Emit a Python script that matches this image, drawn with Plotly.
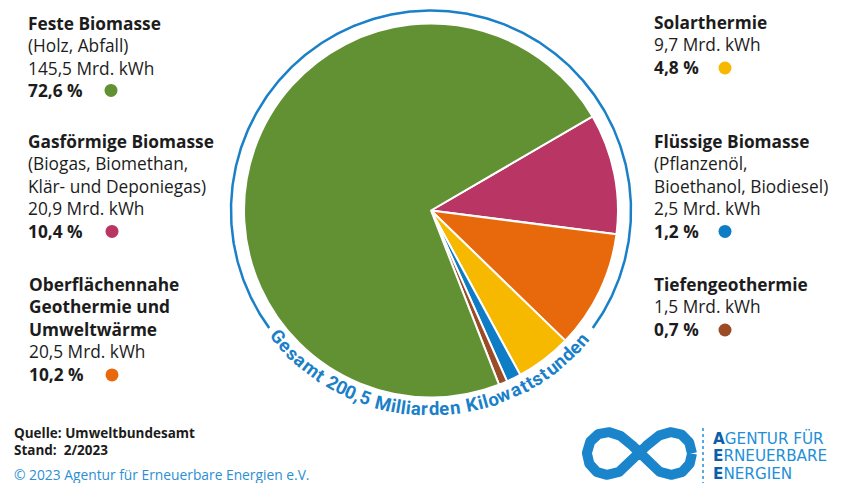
import math
import plotly.graph_objects as go

# ---------------- data ----------------
categories = ["Gasförmige Biomasse", "Oberflächennahe Geothermie und Umweltwärme",
              "Solarthermie", "Flüssige Biomasse", "Tiefengeothermie", "Feste Biomasse"]
values_mrd_kwh = [20.9, 20.5, 9.7, 2.5, 1.5, 145.5]
shares_pct = ["10,4", "10,2", "4,8", "1,2", "0,7", "72,6"]
title_lines = [["Gasförmige Biomasse"], ["Oberflächennahe", "Geothermie und", "Umweltwärme"],
               ["Solarthermie"], ["Flüssige Biomasse"], ["Tiefengeothermie"], ["Feste Biomasse"]]
sub_lines = [["(Biogas, Biomethan,", "Klär- und Deponiegas)"], [], [],
             ["(Pflanzenöl,", "Bioethanol, Biodiesel)"], [], ["(Holz, Abfall)"]]
total_text = "Gesamt 200,5 Milliarden Kilowattstunden"
colors = ["#b93564", "#e8690c", "#f7b800", "#0f7dc6", "#9b4b26", "#629134"]

# ---------------- layout constants ----------------
W, H = 858, 483          # window size
OFF = 8                  # default page body margin
FW, FH = W - OFF, H - OFF
CX, CY, R = 431, 210.5, 187
RING_R = 200
BLUE = "#1a80c8"
TXT = "#1c1c1c"
FONT = "Open Sans"
FS = 17.3
LH = FS * 1.3

# block placement: (x, first line y, dot x)
block_pos = {5: (26, 23, 111), 0: (26, 141.5, 112), 1: (27, 285, 112),
             2: (652, 23, 725), 3: (652, 141.5, 725), 4: (652, 285, 725)}

fig = go.Figure()

fig.add_trace(go.Pie(
    labels=categories, values=values_mrd_kwh, sort=False, direction="clockwise",
    rotation=59.8, marker=dict(colors=colors, line=dict(color="white", width=2)),
    textinfo="none", hoverinfo="skip", showlegend=False,
    domain=dict(x=[(CX - R - OFF) / FW, (CX + R - OFF) / FW],
                y=[(H - CY - R) / FH, (H - CY + R) / FH]),
))

# ring around pie with gap at bottom
th = [math.radians(-36 + i * 0.5) for i in range(int(252 / 0.5) + 1)]
fig.add_trace(go.Scatter(x=[CX + RING_R * math.cos(t) for t in th],
                         y=[CY - RING_R * math.sin(t) for t in th],
                         mode="lines", line=dict(color=BLUE, width=2.5),
                         hoverinfo="skip", showlegend=False))

annotations = []

def ann(x, y, text, size, color=TXT, xanchor="left", angle=0, family=FONT, weight=None):
    f = dict(family=family, size=size, color=color)
    if weight:
        f["weight"] = weight
    annotations.append(dict(x=x, y=y, xref="x", yref="y", text=text, showarrow=False,
                            xanchor=xanchor, yanchor="middle", textangle=angle, font=f,
                            align="left"))

dot_x, dot_y, dot_c = [], [], []
for i, cat in enumerate(categories):
    x0, y0, dx = block_pos[i]
    lines = [f"<b>{ln}</b>" for ln in title_lines[i]] + list(sub_lines[i])
    lines.append(f"{values_mrd_kwh[i]:.1f}".replace(".", ",") + " Mrd. kWh")
    lines.append(f"<b>{shares_pct[i]} %</b>")
    n = len(lines)
    ann(x0, y0 + (n - 1) * LH / 2, "<br>".join(lines), FS)
    dot_x.append(dx); dot_y.append(y0 + (n - 1) * LH); dot_c.append(colors[i])

fig.add_trace(go.Scatter(x=dot_x, y=dot_y, mode="markers",
                         marker=dict(size=13, color=dot_c), hoverinfo="skip", showlegend=False))

# curved total text
def cw(c):
    if c == " ": return 0.30
    if c in "il": return 0.28
    if c in "tf": return 0.38
    if c == "r": return 0.40
    if c == ",": return 0.26
    if c in "mM": return 0.88
    if c == "w": return 0.80
    if c.isupper(): return 0.70
    return 0.58

widths = [cw(c) for c in total_text]
centers = []
acc = 0
for wv in widths:
    centers.append(acc + wv / 2)
    acc += wv
c0, c1 = centers[0], centers[-1]
TH0, TH1, TR = 219.6, 319.4, 199
for ch, cc in zip(total_text, centers):
    if ch == " ":
        continue
    thd = TH0 + (cc - c0) / (c1 - c0) * (TH1 - TH0)
    t = math.radians(thd)
    ann(CX + TR * math.cos(t), CY - TR * math.sin(t), f"<b>{ch}</b>", 18.5, color=BLUE,
        xanchor="center", angle=270 - thd, family="Roboto")

# source
ann(12, 433, "<b>Quelle: Umweltbundesamt</b>", 13.5)
ann(12, 450, "<b>Stand:  2/2023</b>", 13.5)
ann(12, 474, "© 2023 Agentur für Erneuerbare Energien e.V.", 13.8, color="#2b8fd3")

# logo
LOGO_DARK, LOGO_LIGHT = "#0b5ea8", "#1f8fd8"
for yy, first, rest in [(438, "A", "GENTUR FÜR"), (456, "E", "RNEUERBARE"), (474, "E", "NERGIEN")]:
    ann(711, yy, f"<b><span style='color:{LOGO_DARK}'>{first}</span></b>{rest}", 15.2,
        color=LOGO_LIGHT, family="DejaVu Sans")

a = 52.5
lt = [i * 2 * math.pi / 400 for i in range(401)]
fig.add_trace(go.Scatter(
    x=[639.5 + a * math.cos(t) / (1 + math.sin(t) ** 2) for t in lt],
    y=[453.5 - 1.15 * a * math.sin(t) * math.cos(t) / (1 + math.sin(t) ** 2) for t in lt],
    mode="lines", line=dict(color="#1b85cc", width=10), hoverinfo="skip", showlegend=False))

shapes = [
    dict(type="line", x0=703, x1=703, y0=428, y1=483, xref="x", yref="y",
         line=dict(color=LOGO_LIGHT, width=1.5, dash="dot")),
    dict(type="rect", x0=850.5, x1=853, y0=0, y1=483, xref="x", yref="y",
         fillcolor="#dadada", line=dict(width=0)),
]

fig.update_layout(
    width=FW, height=FH, margin=dict(l=0, r=0, t=0, b=0),
    paper_bgcolor="white", plot_bgcolor="white",
    xaxis=dict(range=[OFF, W], visible=False, fixedrange=True),
    yaxis=dict(range=[H, OFF], visible=False, fixedrange=True),
    annotations=annotations, shapes=shapes, showlegend=False,
)

fig.write_html("out.html")
